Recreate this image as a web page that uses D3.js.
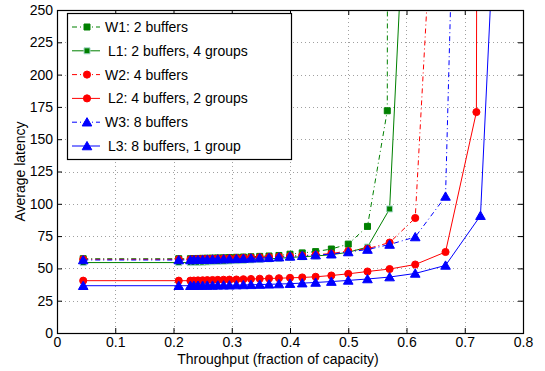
<!DOCTYPE html>
<html>
<head>
<meta charset="utf-8">
<script src="https://cdnjs.cloudflare.com/ajax/libs/d3/7.8.5/d3.min.js"></script>
<style>
  html, body { margin: 0; padding: 0; background: #fff; }
  svg { display: block; font-family: "Liberation Sans", Arial, Helvetica, sans-serif; }
</style>
</head>
<body>
<svg id="chart" width="545" height="371"></svg>
<script>
// Offered-load points (fraction of capacity) shared by every configuration
const throughput = [0.045, 0.209, 0.229, 0.235, 0.242, 0.25, 0.258, 0.267, 0.276, 0.286,
  0.296, 0.308, 0.32, 0.333, 0.348, 0.364, 0.381, 0.4, 0.421, 0.444, 0.471, 0.5, 0.533,
  0.571, 0.615, 0.667, 0.727];

// Average latency per configuration; the final points lie past saturation
const w1X = [0.045, 0.209, 0.229, 0.235, 0.242, 0.25, 0.258, 0.267, 0.276, 0.286,
  0.296, 0.308, 0.32, 0.333, 0.348, 0.364, 0.381, 0.4, 0.421, 0.444, 0.471, 0.5, 0.533, 0.567, 0.568];
const w1Y = [57.5, 57.5, 57.5, 57.6, 57.7, 57.8, 57.9, 58.0, 58.1, 58.2,
  58.4, 58.6, 58.8, 59.0, 59.3, 59.6, 60.0, 61.0, 62.0, 63.0, 65.0, 68.8, 82.5, 172, 600];

const l1X = throughput.slice(0, 24).concat([0.595]);
const l1Y = [54.5, 54.5, 54.5, 54.6, 54.7, 54.8, 55.0, 55.2, 55.4, 55.6,
  55.8, 56.0, 56.3, 56.6, 57.0, 57.4, 57.8, 58.5, 59.0, 59.6, 60.6, 62.5, 66.5, 96, 320];

const w2X = throughput.slice(0, 25).concat([0.665]);
const w2Y = [57.0, 57.0, 57.0, 57.1, 57.2, 57.3, 57.4, 57.5, 57.6, 57.7,
  57.8, 58.0, 58.2, 58.4, 58.6, 58.8, 59.1, 59.5, 60.0, 60.6, 61.5, 63.5, 65.2, 70.0, 89, 500];

const l2X = throughput.slice(0, 26).concat([0.72, 0.722]);
const l2Y = [40.5, 40.5, 40.5, 40.6, 40.7, 40.8, 40.9, 41.0, 41.1, 41.2,
  41.3, 41.4, 41.6, 41.8, 42.0, 42.2, 42.4, 42.7, 43.0, 43.5, 44.5, 45.8, 47.6, 49.5, 53.0, 62.7, 171, 600];

const w3X = throughput.slice(0, 26).concat([0.69]);
const w3Y = [56.5, 56.5, 56.5, 56.6, 56.7, 56.8, 56.9, 57.0, 57.1, 57.2,
  57.3, 57.4, 57.6, 57.8, 58.0, 58.3, 58.7, 59.3, 59.8, 60.3, 61.0, 62.7, 64.6, 68.5, 74.3, 105.7, 500];

const l3X = throughput.concat([0.75]);
const l3Y = [36.6, 36.6, 36.6, 36.6, 36.7, 36.7, 36.8, 36.8, 36.9, 37.0,
  37.0, 37.1, 37.2, 37.3, 37.5, 37.7, 37.9, 38.2, 38.6, 39.1, 39.8, 40.7, 41.8, 43.3, 46.1, 52.3, 90.8, 310];

const seriesNames = ["W1: 2 buffers", "L1: 2 buffers, 4 groups", "W2: 4 buffers",
  "L2: 4 buffers, 2 groups", "W3: 8 buffers", "L3: 8 buffers, 1 group"];

const xTicks = [0, 0.1, 0.2, 0.3, 0.4, 0.5, 0.6, 0.7, 0.8];
const yTicks = [0, 25, 50, 75, 100, 125, 150, 175, 200, 225, 250];

const series = [
  { name: seriesNames[0], x: w1X, y: w1Y, color: "#008000", dash: "5,3,1,3", marker: "square", edge: "#008000" },
  { name: seriesNames[1], x: l1X, y: l1Y, color: "#008000", dash: null, marker: "square", edge: "#a8d8cc" },
  { name: seriesNames[2], x: w2X, y: w2Y, color: "#ff0000", dash: "5,3,1,3", marker: "circle", edge: "#ff0000" },
  { name: seriesNames[3], x: l2X, y: l2Y, color: "#ff0000", dash: null, marker: "circle", edge: "#ff0000" },
  { name: seriesNames[4], x: w3X, y: w3Y, color: "#0000ff", dash: "5,3,1,3", marker: "triangle", edge: "#0000ff" },
  { name: seriesNames[5], x: l3X, y: l3Y, color: "#0000ff", dash: null, marker: "triangle", edge: "#0000ff" }
];

const svg = d3.select("#chart");
const margin = { left: 57, right: 22, top: 10, bottom: 38 };
const W = 545, H = 371;
const pw = W - margin.left - margin.right;
const ph = H - margin.top - margin.bottom;
const FS = "14px";

const x = d3.scaleLinear().domain([0, 0.8]).range([margin.left, margin.left + pw]);
const y = d3.scaleLinear().domain([0, 250]).range([margin.top + ph, margin.top]);

svg.append("defs").append("clipPath").attr("id", "plotClip")
  .append("rect").attr("x", margin.left).attr("y", margin.top).attr("width", pw).attr("height", ph);

// Dotted grid
const grid = svg.append("g").attr("stroke", "#a0a0a0").attr("stroke-width", 1)
  .attr("stroke-dasharray", "1,3").attr("fill", "none");
xTicks.slice(1, -1).forEach(t => {
  grid.append("line").attr("x1", Math.round(x(t)) + 0.5).attr("x2", Math.round(x(t)) + 0.5)
    .attr("y1", margin.top).attr("y2", margin.top + ph);
});
yTicks.slice(1, -1).forEach(t => {
  grid.append("line").attr("y1", Math.round(y(t)) + 0.5).attr("y2", Math.round(y(t)) + 0.5)
    .attr("x1", margin.left).attr("x2", margin.left + pw);
});

// Axes with inward ticks on all four sides
const fmtX = d => d === 0 ? "0" : d3.format(".1f")(d);
const axisStyle = g => {
  g.select(".domain").remove();
  g.selectAll(".tick line").attr("stroke", "#000");
  g.selectAll(".tick text").attr("fill", "#000").style("font-size", FS);
};
svg.append("g").attr("transform", `translate(0,${margin.top + ph})`)
  .call(d3.axisBottom(x).tickValues(xTicks).tickFormat(fmtX).tickSizeInner(-5).tickSizeOuter(0).tickPadding(4))
  .call(axisStyle);
svg.append("g").attr("transform", `translate(0,${margin.top})`)
  .call(d3.axisTop(x).tickValues(xTicks).tickFormat("").tickSizeInner(-5).tickSizeOuter(0))
  .call(axisStyle);
svg.append("g").attr("transform", `translate(${margin.left},0)`)
  .call(d3.axisLeft(y).tickValues(yTicks).tickFormat(d3.format("d")).tickSizeInner(-5).tickSizeOuter(0).tickPadding(4))
  .call(axisStyle);
svg.append("g").attr("transform", `translate(${margin.left + pw},0)`)
  .call(d3.axisRight(y).tickValues(yTicks).tickFormat("").tickSizeInner(-5).tickSizeOuter(0))
  .call(axisStyle);

// Series lines and markers
const plot = svg.append("g").attr("clip-path", "url(#plotClip)");
const line = d3.line().x(d => x(d[0])).y(d => y(d[1]));
const symbolFor = { square: d3.symbolSquare, circle: d3.symbolCircle, triangle: d3.symbolTriangle };
const sizeFor = { square: 36, circle: 40, triangle: 40 };

function drawMarker(g, s, px, py) {
  const sym = d3.symbol().type(symbolFor[s.marker]).size(sizeFor[s.marker]);
  const dy = s.marker === "triangle" ? 1 : 0;
  g.append("path").attr("d", sym())
    .attr("transform", `translate(${px},${py + dy})`)
    .attr("fill", s.color).attr("stroke", s.edge).attr("stroke-width", 1);
}

series.forEach(s => {
  const pts = s.x.map((v, i) => [v, s.y[i]]);
  plot.append("path").datum(pts).attr("d", line)
    .attr("fill", "none").attr("stroke", s.color).attr("stroke-width", 1)
    .attr("stroke-dasharray", s.dash);
  const mg = plot.append("g");
  pts.forEach(p => drawMarker(mg, s, x(p[0]), y(p[1])));
});

// Frame
svg.append("rect").attr("x", margin.left + 0.5).attr("y", margin.top + 0.5)
  .attr("width", pw).attr("height", ph)
  .attr("fill", "none").attr("stroke", "#000").attr("stroke-width", 1.2);

// Axis titles
svg.append("text").attr("x", 278).attr("y", 364).attr("text-anchor", "middle")
  .style("font-size", FS).text("Throughput (fraction of capacity)");
svg.append("text").attr("transform", `translate(25,${margin.top + ph / 2}) rotate(-90)`)
  .attr("text-anchor", "middle").style("font-size", FS).text("Average latency");

// Legend
const lg = svg.append("g");
const lx = 67, ly = 13, lw = 224, lh = 146;
lg.append("rect").attr("x", lx + 0.5).attr("y", ly + 0.5).attr("width", lw).attr("height", lh)
  .attr("fill", "#fff").attr("stroke", "#000").attr("stroke-width", 1.2);
series.forEach((s, i) => {
  const cy = ly + 14 + i * 23.8;
  lg.append("line").attr("x1", lx + 5).attr("x2", lx + 33).attr("y1", cy).attr("y2", cy)
    .attr("stroke", s.color).attr("stroke-width", 1).attr("stroke-dasharray", s.dash);
  drawMarker(lg, s, lx + 20, cy);
  lg.append("text").attr("x", s.dash ? lx + 38 : lx + 41).attr("y", cy + 5)
    .style("font-size", FS).text(s.name);
});
</script>
</body>
</html>
